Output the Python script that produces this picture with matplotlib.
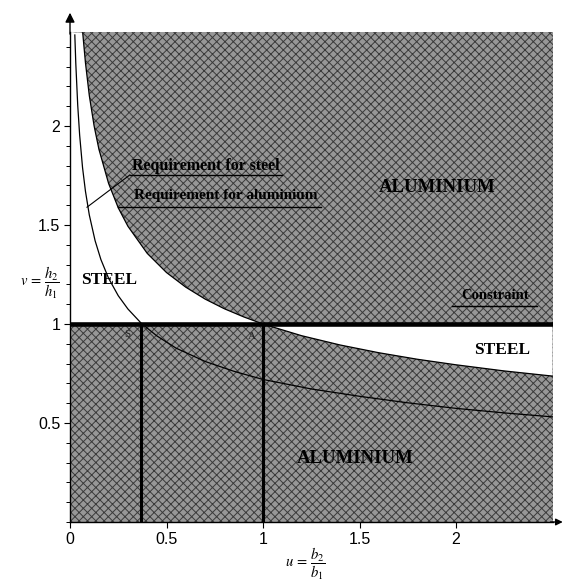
import numpy as np
import matplotlib
matplotlib.use("Agg")
import matplotlib.pyplot as plt
from matplotlib.ticker import MultipleLocator

# Boundary of the aluminium-favoured region (v versus u)
alu_u = [0.066, 0.08, 0.1, 0.125, 0.15, 0.2, 0.25, 0.3, 0.4, 0.5, 0.6, 0.7,
         0.8, 0.9, 1.0, 1.2, 1.4, 1.6, 1.8, 2.0, 2.25, 2.5]
alu_v = [2.47, 2.32, 2.154, 2.0, 1.882, 1.71, 1.587, 1.494, 1.357, 1.26, 1.186,
         1.126, 1.077, 1.036, 1.0, 0.941, 0.894, 0.855, 0.822, 0.794, 0.763, 0.737]

# Requirement curve for steel
steel_u = [0.025, 0.03, 0.04, 0.05, 0.065, 0.08, 0.1, 0.13, 0.16, 0.2, 0.25, 0.3,
           0.37, 0.45, 0.55, 0.7, 0.85, 1.0, 1.25, 1.5, 1.75, 2.0, 2.25, 2.5]
steel_v = [2.46, 2.317, 2.105, 1.954, 1.79, 1.671, 1.551, 1.421, 1.326, 1.231,
           1.143, 1.076, 1.003, 0.94, 0.878, 0.811, 0.761, 0.72, 0.672, 0.635,
           0.602, 0.574, 0.551, 0.531]

constraint_v = 1.0
marker_u = [0.37, 1.0]          # S and A
marker_names = ["S", "A"]

x_ticks = [0, 0.5, 1, 1.5, 2]
x_ticklabels = ["0", "0.5", "1", "1.5", "2"]
y_ticks = [0.5, 1, 1.5, 2]
y_ticklabels = ["0.5", "1", "1.5", "2"]

XMAX, YMAX = 2.5, 2.475

plt.rcParams["hatch.linewidth"] = 0.7
plt.rcParams["mathtext.fontset"] = "stix"
fig = plt.figure(figsize=(5.66, 5.82), dpi=100)
ax = fig.add_axes([70 / 566, 60 / 582, 482.5 / 566, 490 / 582])
ax.set_xlim(0, XMAX)
ax.set_ylim(0, YMAX)

# grey background = aluminium region
ax.fill_between([0, XMAX], 0, YMAX, facecolor="#979797", edgecolor="#3a3a3a",
                hatch="xxxx", linewidth=0, zorder=1)

# white band between the constraint and the aluminium boundary = steel region
poly_u = [0, 0] + alu_u + [XMAX]
poly_v = [constraint_v, YMAX] + alu_v + [constraint_v]
ax.fill(poly_u, poly_v, facecolor="white", edgecolor="none", zorder=2)
ax.plot(alu_u, alu_v, color="black", lw=0.9, zorder=3)

# steel requirement curve
ax.plot(steel_u, steel_v, color="black", lw=0.9, zorder=3)

# constraint and the S / A verticals
ax.plot([0, XMAX], [constraint_v, constraint_v], color="black", lw=3.3, zorder=4)
for mu in marker_u:
    ax.plot([mu, mu], [0, constraint_v], color="black", lw=2.2, zorder=4)
ax.text(0.295, 0.945, marker_names[0], fontsize=8, family="Liberation Serif",
        color="#222222", ha="center", va="center", zorder=5)
ax.text(0.945, 0.935, marker_names[1], fontsize=8, family="Liberation Serif",
        color="#222222", ha="center", va="center", zorder=5)

serif = dict(family="Liberation Serif", fontweight="bold", color="black", zorder=6)
ax.text(0.2, 1.22, "STEEL", fontsize=12.5, ha="center", va="center", **serif)
ax.text(2.24, 0.87, "STEEL", fontsize=12.5, ha="center", va="center", **serif)
ax.text(1.90, 1.69, "ALUMINIUM", fontsize=13.5, ha="center", va="center", **serif)
ax.text(1.48, 0.32, "ALUMINIUM", fontsize=13.5, ha="center", va="center", **serif)

# annotations with underlines
ax.text(0.32, 1.80, "Requirement for steel", fontsize=11.5, ha="left", va="center", **serif)
ax.plot([0.31, 1.10], [1.753, 1.753], color="black", lw=1.0, zorder=6)
ax.plot([0.088, 0.31], [1.59, 1.753], color="black", lw=0.8, zorder=6)
ax.text(0.33, 1.65, "Requirement for aluminium", fontsize=11, ha="left", va="center", **serif)
ax.plot([0.25, 1.30], [1.59, 1.59], color="black", lw=1.0, zorder=6)
ax.text(2.2, 1.146, "Constraint", fontsize=10.5, ha="center", va="center", **serif)
ax.plot([1.98, 2.42], [1.09, 1.09], color="black", lw=1.0, zorder=6)

# axes styling
for s in ["top", "right"]:
    ax.spines[s].set_visible(False)
for s in ["left", "bottom"]:
    ax.spines[s].set_linewidth(1.0)
    ax.spines[s].set_zorder(7)
ax.set_xticks(x_ticks)
ax.set_xticklabels(x_ticklabels)
ax.set_yticks(y_ticks)
ax.set_yticklabels(y_ticklabels)
ax.yaxis.set_minor_locator(MultipleLocator(0.1))
ax.tick_params(axis="both", which="major", length=4, width=0.8, labelsize=11.5, pad=3)
ax.tick_params(axis="y", which="minor", length=3, width=0.7)
for lab in ax.get_xticklabels() + ax.get_yticklabels():
    lab.set_family("Liberation Sans")

# arrow heads on the axes
ax.annotate("", xy=(0, 1.045), xytext=(0, 0.99), xycoords="axes fraction",
            arrowprops=dict(arrowstyle="-|>", color="black", lw=1.0,
                            mutation_scale=14), annotation_clip=False)
ax.annotate("", xy=(1.027, 0), xytext=(0.99, 0), xycoords="axes fraction",
            arrowprops=dict(arrowstyle="-|>", color="black", lw=1.0,
                            mutation_scale=10), annotation_clip=False)

ax.text(-0.062, 0.488, r"$v\,=\,\dfrac{h_2}{h_1}$", transform=ax.transAxes,
        fontsize=10.5, ha="center", va="center")
ax.text(0.487, -0.085, r"$u\,=\,\dfrac{b_2}{b_1}$", transform=ax.transAxes,
        fontsize=10.5, ha="center", va="center")

fig.savefig("out.png", dpi=100)
